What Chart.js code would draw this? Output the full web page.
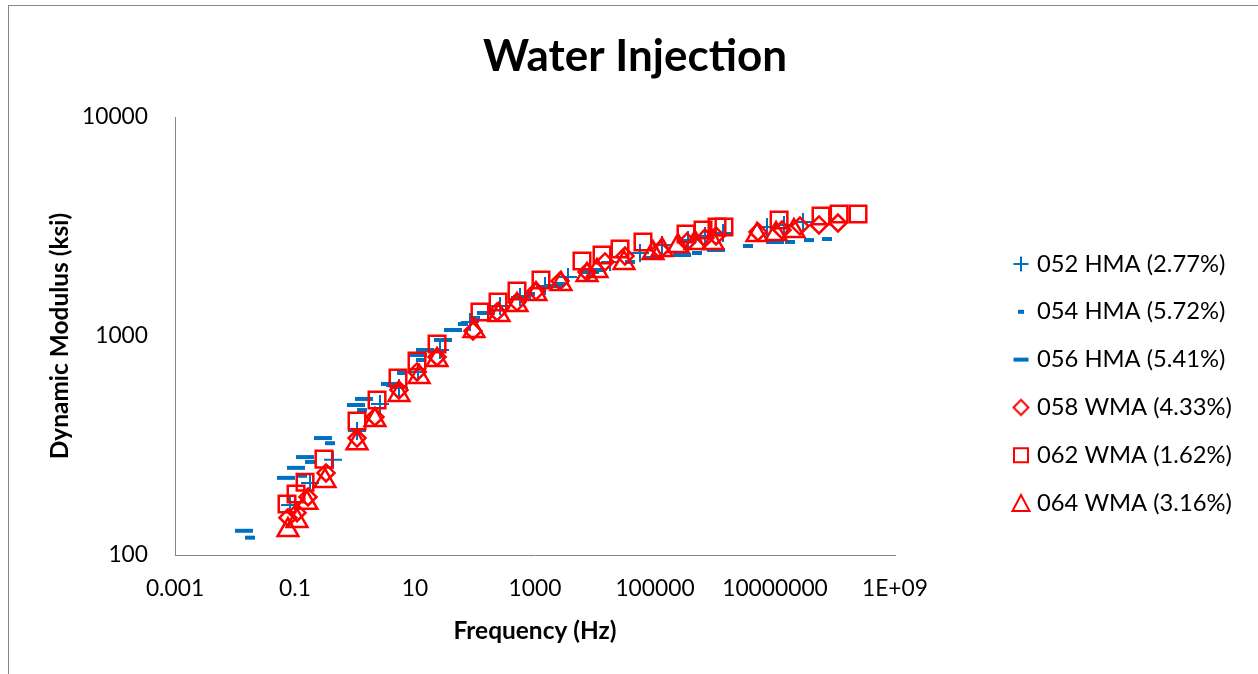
<!DOCTYPE html>
<html><head><meta charset="utf-8">
<script src="https://cdn.jsdelivr.net/npm/chart.js@4.4.1/dist/chart.umd.min.js"></script>
<style>
html,body{margin:0;padding:0;background:#fff;}
#wrap{position:relative;width:1258px;height:674px;overflow:hidden;background:#fff;}
#frame{position:absolute;left:8px;top:5px;width:1270px;height:690px;border-top:1px solid #878787;border-left:1px solid #878787;pointer-events:none;}
canvas{position:absolute;left:0;top:0;}
</style></head><body>
<div id="wrap"><canvas id="c" width="1258" height="674"></canvas><div id="frame"></div></div>
<script>
// ---------------- data ----------------
const seriesNames = ['052 HMA (2.77%)','054 HMA (5.72%)','056 HMA (5.41%)','058 WMA (4.33%)','062 WMA (1.62%)','064 WMA (3.16%)'];

const freq052 = [0.0826, 0.178, 0.430, 1.08, 2.61, 5.41, 11.2, 26.1, 82.6, 261, 562, 1469, 3548, 8260, 17780, 56230, 130900, 354800, 680800, 1360000, 7360000, 14100000, 29300000];
const mod052  = [169, 213, 272, 368, 489, 579, 685, 863, 1159, 1371, 1507, 1691, 1858, 2023, 2178, 2393, 2606, 2742, 2862, 2951, 3147, 3213, 3317];

const freq054 = [0.0178, 0.131, 0.178, 0.383, 1.31, 3.98, 6.07, 12.6, 63.1, 100, 826, 2612, 12110, 38280, 501200, 1000000, 3550000, 17800000, 36900000, 73600000];
const mod054  = [120, 230, 266, 324, 459, 597, 678, 777, 1135, 1208, 1555, 1728, 2001, 2178, 2393, 2471, 2576, 2687, 2742, 2773];

const freq056 = [0.0141, 0.0708, 0.104, 0.147, 0.293, 1.04, 1.41, 3.83, 11.2, 14.7, 29.3, 43.0, 152, 607, 1995, 8260, 92600, 281800, 1040000, 10000000];
const mod056  = [129, 225, 250, 280, 342, 484, 516, 604, 819, 863, 959, 1065, 1274, 1507, 1691, 1960, 2270, 2344, 2471, 2687];

const freq058 = [0.0764, 0.108, 0.165, 0.329, 1.08, 2.15, 5.41, 10.8, 23.3, 92.6, 233, 501, 1039, 2612, 7362, 14690, 31620, 121100, 341200, 680800, 1040000, 5210000, 13100000, 26100000, 54100000, 112000000];
const mod058  = [148, 156, 184, 237, 342, 427, 567, 685, 802, 1054, 1288, 1429, 1604, 1782, 1960, 2178, 2317, 2471, 2687, 2800, 2862, 2985, 3048, 3177, 3213, 3281];

const freq062 = [0.0736, 0.104, 0.147, 0.304, 1.08, 2.33, 5.21, 10.8, 23.3, 121, 242, 501, 1259, 6070, 13090, 26120, 63100, 328900, 631000, 1080000, 1410000, 11700000, 58500000, 117000000, 242000000];
const mod062  = [171, 190, 215, 274, 409, 510, 643, 769, 919, 1288, 1429, 1604, 1802, 2199, 2344, 2496, 2687, 2923, 3048, 3147, 3147, 3388, 3532, 3606, 3606];

const freq064 = [0.0764, 0.108, 0.158, 0.316, 1.08, 2.15, 5.41, 11.7, 23.3, 96.2, 251, 501, 1039, 2710, 7362, 10790, 30410, 92600, 130900, 241500, 464200, 926800, 5010000, 10400000, 20700000];
const mod064  = [130, 143, 173, 218, 324, 413, 538, 650, 777, 1054, 1247, 1385, 1555, 1728, 1900, 1982, 2154, 2393, 2471, 2576, 2660, 2660, 2893, 2923, 3015];

const xTickValues = [0.001, 0.1, 10, 1000, 100000, 10000000, 1e9];
const xTickLabels = ['0.001', '0.1', '10', '1000', '100000', '10000000', '1E+09'];
const yTickValues = [100, 1000, 10000];
const yTickLabels = ['100', '1000', '10000'];

// ---------------- layout / style ----------------
const FAMILY = 'Lato, Carlito, "Open Sans", sans-serif';
const BLUE = '#0070C0', RED = '#FF0000', AXIS = '#868686';
const mctx = document.createElement('canvas').getContext('2d');
function fitSize(text, weight, target) {
  mctx.font = weight + ' 100px ' + FAMILY;
  return 100 * target / mctx.measureText(text).width;
}
function textWidth(text, weight, size) {
  mctx.font = weight + ' ' + size + 'px ' + FAMILY;
  return mctx.measureText(text).width;
}
const titleSize  = fitSize('Water Injection', 'bold', 304);
const tickSize   = fitSize('10000', 'normal', 66);
const legendSize = fitSize('058 WMA (4.33%)', 'normal', 195);
const axTitleSize = fitSize('Frequency (Hz)', 'bold', 163);

const AREA_L = 175, AREA_R = 895, AREA_T = 117, AREA_B = 555, W = 1258, H = 674;

// legend geometry
const legPad = 47.8 - legendSize;
const legBoxW = Math.max(4, 32 - legendSize);
const legLeft = 1021 - legBoxW / 2 - legPad;
const dummyW = legLeft - AREA_R;
const maxTxt = Math.max(...seriesNames.map(n => textWidth(n, 'normal', legendSize)));
const legW = legPad + legBoxW + legendSize / 2 + maxTxt + 10;
const padR = Math.max(0, W - legLeft - legW);
const padL = padR + 12;
const legTitleH = (264 - legendSize / 2) - AREA_T - legPad;

// title
const tLH = titleSize * 1.2;
const tPadTop = 57 - tLH / 2;
const tPadBottom = AREA_T - tPadTop - tLH;

function makeIcon(kind, color) {
  const c = document.createElement('canvas'); c.width = 22; c.height = 22;
  const g = c.getContext('2d'); g.strokeStyle = color; g.lineWidth = 2;
  const m = 11;
  g.beginPath();
  switch (kind) {
    case 'cross': g.moveTo(m - 7.5, m); g.lineTo(m + 7.5, m); g.moveTo(m, m - 7.5); g.lineTo(m, m + 7.5); break;
    case 'short': g.lineWidth = 4; g.moveTo(m - 3, m); g.lineTo(m + 3, m); break;
    case 'long': g.lineWidth = 4; g.moveTo(m - 7.5, m); g.lineTo(m + 7.5, m); break;
    case 'diamond': g.moveTo(m - 7.5, m); g.lineTo(m, m - 7.5); g.lineTo(m + 7.5, m); g.lineTo(m, m + 7.5); g.closePath(); break;
    case 'square': g.rect(m - 7, m - 7, 14, 14); break;
    case 'triangle': g.moveTo(m, m - 8); g.lineTo(m + 8.5, m + 8); g.lineTo(m - 8.5, m + 8); g.closePath(); break;
  }
  g.stroke();
  return c;
}

const defs = [
  {f: freq052, m: mod052, style: 'cross',    r: 9,    bw: 2,   color: BLUE, icon: 'cross'},
  {f: freq054, m: mod054, style: 'line',     r: 5,    bw: 4,   color: BLUE, icon: 'short'},
  {f: freq056, m: mod056, style: 'line',     r: 9,    bw: 4,   color: BLUE, icon: 'long'},
  {f: freq058, m: mod058, style: 'rectRot',  r: 8.5,  bw: 2.5, color: RED,  icon: 'diamond'},
  {f: freq062, m: mod062, style: 'rect',     r: 11.7, bw: 2.5, color: RED,  icon: 'square'},
  {f: freq064, m: mod064, style: 'triangle', r: 12,   bw: 2.5, color: RED,  icon: 'triangle'}
];
const legendIcons = defs.map(d => makeIcon(d.icon, d.color));

const datasets = defs.map((d, i) => ({
  label: seriesNames[i],
  data: d.f.map((f, k) => ({x: f, y: d.m[k]})),
  showLine: false,
  pointStyle: d.style,
  pointRadius: d.r,
  pointHoverRadius: d.r,
  pointBorderWidth: d.bw,
  pointHoverBorderWidth: d.bw,
  borderColor: d.color,
  pointBorderColor: d.color,
  backgroundColor: 'rgba(0,0,0,0)',
  pointBackgroundColor: 'rgba(0,0,0,0)',
  order: defs.length - 1 - i
}));

Chart.defaults.color = '#000';
Chart.defaults.font.family = FAMILY;

new Chart(document.getElementById('c'), {
  type: 'scatter',
  data: {datasets},
  options: {
    responsive: false,
    animation: false,
    devicePixelRatio: 1,
    events: [],
    layout: {padding: {left: padL, right: padR, top: 0, bottom: 0}},
    plugins: {
      tooltip: {enabled: false},
      title: {
        display: true, text: 'Water Injection', color: '#000',
        font: {family: FAMILY, size: titleSize, weight: 'bold', lineHeight: 1.2},
        padding: {top: tPadTop, bottom: tPadBottom}
      },
      legend: {
        display: true, position: 'right', align: 'start', fullSize: false,
        maxWidth: 600,
        title: {display: true, text: '', font: {size: 10, lineHeight: 1}, padding: {top: legTitleH - 10, bottom: 0}},
        labels: {
          usePointStyle: true, boxWidth: legBoxW, boxHeight: legBoxW, padding: legPad,
          color: '#000', font: {family: FAMILY, size: legendSize},
          sort: (a, b) => a.datasetIndex - b.datasetIndex,
          generateLabels(chart) {
            const items = Chart.defaults.plugins.legend.labels.generateLabels(chart);
            items.forEach(it => { it.pointStyle = legendIcons[it.datasetIndex]; it.rotation = 0; });
            return items;
          }
        }
      }
    },
    scales: {
      x: {
        type: 'logarithmic', position: 'bottom', min: xTickValues[0], max: xTickValues[xTickValues.length - 1],
        grid: {display: false, drawTicks: false},
        border: {display: true, color: AXIS, width: 1},
        ticks: {autoSkip: false, maxRotation: 0, minRotation: 0, padding: 588.5 - AREA_B - 0.6 * tickSize,
                color: '#000', font: {family: FAMILY, size: tickSize}, callback: (v, i) => xTickLabels[i]},
        afterBuildTicks: s => { s.ticks = xTickValues.map(v => ({value: v})); },
        afterFit: s => { s.height = H - AREA_B; },
        title: {display: true, text: 'Frequency (Hz)', color: '#000',
                font: {family: FAMILY, size: axTitleSize, weight: 'bold', lineHeight: 1.2},
                padding: {top: 0, bottom: (H - 631) - 0.6 * axTitleSize}}
      },
      y: {
        type: 'logarithmic', position: 'left', min: yTickValues[0], max: yTickValues[yTickValues.length - 1],
        grid: {display: false, drawTicks: false},
        border: {display: true, color: AXIS, width: 1},
        ticks: {autoSkip: false, padding: 27, color: '#000', font: {family: FAMILY, size: tickSize},
                callback: (v, i) => yTickLabels[i]},
        afterBuildTicks: s => { s.ticks = yTickValues.map(v => ({value: v})); },
        afterFit: s => { s.width = AREA_L - padL; },
        title: {display: true, text: 'Dynamic Modulus (ksi)', color: '#000',
                font: {family: FAMILY, size: axTitleSize, weight: 'bold', lineHeight: 1.2},
                padding: {top: 60 - padL - 0.6 * axTitleSize, bottom: 0}}
      },
      yR: {
        type: 'linear', position: 'right', display: true,
        grid: {display: false, drawTicks: false}, border: {display: false},
        ticks: {display: false}, title: {display: false},
        afterFit: s => { s.width = dummyW; }
      }
    }
  }
});
</script>
</body></html>
